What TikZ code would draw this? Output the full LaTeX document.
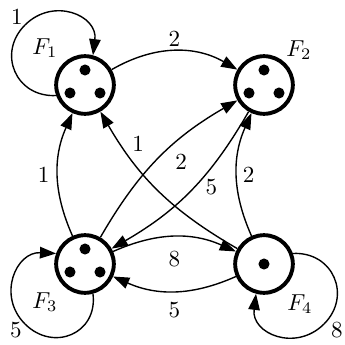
\documentclass[tikz,border=0pt]{standalone}
\usetikzlibrary{arrows.meta}
\begin{document}
\begin{tikzpicture}[x=0.4336pt,y=0.4336pt,
  state/.style={circle,draw,line width=1.7pt,minimum size=25pt,inner sep=0pt},
  conn/.style={line width=0.6pt,-{Triangle[length=7pt,width=5pt]}},
  tok/.style={fill=black}]
\useasboundingbox (0,0) rectangle (345,344);
\node[state] (F1) at (85,259) {};
\node[state] (F2) at (264,259) {};
\node[state] (F3) at (85,80) {};
\node[state] (F4) at (264,80) {};
\foreach \n in {F1,F2,F3}{
  \fill[tok] ([shift={(0,15)}]\n) circle[radius=2.4pt];
  \fill[tok] ([shift={(-15,-8)}]\n) circle[radius=2.4pt];
  \fill[tok] ([shift={(15,-8)}]\n) circle[radius=2.4pt];
}
\fill[tok] (F4) circle[radius=2.4pt];
\node (n1) at ([shift={(-40,37)}]F1) {$F_1$};
\node (n2) at ([shift={(35,35)}]F2) {$F_2$};
\node (n3) at ([shift={(-40,-38)}]F3) {$F_3$};
\node (n4) at ([shift={(36,-40)}]F4) {$F_4$};
\coordinate (p1) at ([shift={(-60,60)}]F1);
\coordinate (p3) at ([shift={(-60,-60)}]F3);
\coordinate (p4) at ([shift={(60,-60)}]F4);
% self loops
\draw[conn] (F1.200) .. controls +(-40,-2) and +(-28.3,-28.3) .. (p1)
  .. controls +(28.3,28.3) and +(5,40) .. (F1.75)
  node at ([shift={(-68,68)}]F1) {1};
\draw[conn] (F3.285) .. controls +(5,-40) and +(28.3,-28.3) .. (p3)
  .. controls +(-28.3,28.3) and +(-40,2) .. (F3.160)
  node at ([shift={(-69,-66)}]F3) {5};
\draw[conn] (F4.20) .. controls +(40,2) and +(28.3,28.3) .. (p4)
  .. controls +(-28.3,-28.3) and +(-5,-40) .. (F4.255)
  node at ([shift={(73,-66)}]F4) {8};
% edges
\draw[conn] (F1) to[bend left=30] node[midway,above,yshift=-1.5pt] {2} (F2);
\draw[conn] (F3) to[bend left=24] node[midway,left] {1} (F1);
\draw[conn] (F4) to[bend left=24] node[midway,right,xshift=-1pt] {2} (F2);
\draw[conn] (F3) to[bend left=24] node[midway,below,yshift=-2.5pt] {8} (F4);
\draw[conn] (F4) to[bend left=24] node[midway,below,yshift=-1pt] {5} (F3);
\draw[conn] (F4) to[bend left=15] node[pos=0.72,above right,xshift=-3.5pt] {1} (F1);
\draw[conn] (F3) to[bend left=15] node[pos=0.6,below right,xshift=-2pt] {2} (F2);
\draw[conn] (F2) to[bend left=15] node[pos=0.35,below right,xshift=-5pt] {5} (F3);
\end{tikzpicture}
\end{document}
